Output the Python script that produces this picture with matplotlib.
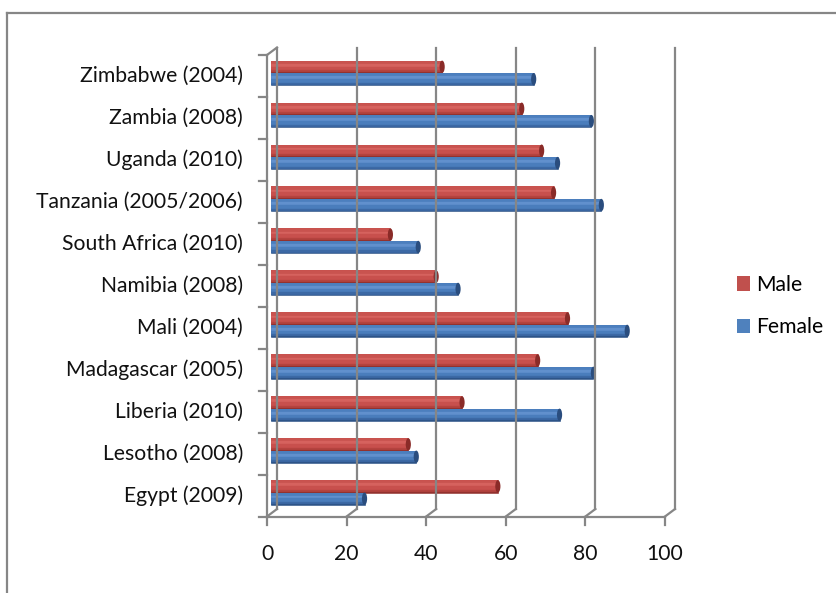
import matplotlib
matplotlib.use('Agg')
import matplotlib.pyplot as plt
from matplotlib.transforms import offset_copy
from matplotlib.patches import Ellipse, Patch
from matplotlib.lines import Line2D

plt.rcParams['font.family'] = ['Lato', 'DejaVu Sans']

# 数据（自下而上）
countries = ['Egypt (2009)', 'Lesotho (2008)', 'Liberia (2010)', 'Madagascar (2005)',
             'Mali (2004)', 'Namibia (2008)', 'South Africa (2010)',
             'Tanzania (2005/2006)', 'Uganda (2010)', 'Zambia (2008)', 'Zimbabwe (2004)']
male = [57, 34.5, 48, 67, 74.5, 41.5, 30, 71, 68, 63, 43]
female = [23.5, 36.5, 72.5, 81, 89.5, 47, 37, 83, 72, 80.5, 66]
x_ticks = [0, 20, 40, 60, 80, 100]

W, H = 837, 593
fig = plt.figure(figsize=(W / 100, H / 100), dpi=100)
fig.patch.set_facecolor('white')

# 前平面坐标轴（像素位置）
x0, x1 = 267, 665
y_top, y_bot = 55, 516.5
ax = fig.add_axes([x0 / W, (H - y_bot) / H, (x1 - x0) / W, (y_bot - y_top) / H])
ax.set_xlim(0, 100)
ax.set_ylim(0, len(countries))
ax.axis('off')

grid_c = '#868686'
txt_c = '#111111'
fs = 15.2
# 三维效果的偏移：后墙与柱体中平面
back = offset_copy(ax.transData, fig=fig, x=10, y=7.5, units='dots')
mid = offset_copy(ax.transData, fig=fig, x=4, y=3, units='dots')
front = ax.transData


def fig_line(p, q):
    fig.add_artist(Line2D([p[0] / W, q[0] / W], [p[1] / H, q[1] / H],
                          color=grid_c, lw=1.6))


n = len(countries)
# 后墙网格线、地板斜线、刻度
for xv in x_ticks:
    ax.plot([xv, xv], [0, n], color=grid_c, lw=1.6, transform=back, clip_on=False)
    p0 = front.transform((xv, 0))
    p1 = back.transform((xv, 0))
    fig_line(p0, p1)
    fig_line(p0, (p0[0], p0[1] - 8))
    ax.text(xv, 0, str(xv), transform=offset_copy(front, fig=fig, x=0, y=-37, units='dots'),
            ha='center', va='center', fontsize=fs, color=txt_c)

# 地板前沿
ax.plot([0, 100], [0, 0], color=grid_c, lw=1.6, transform=front, clip_on=False)

# 左侧墙
ax.plot([0, 0], [0, n], color=grid_c, lw=1.6, transform=front, clip_on=False)
fig_line(front.transform((0, n)), back.transform((0, n)))
for k in range(n + 1):
    p = front.transform((0, k))
    fig_line((p[0] - 8, p[1]), p)

# 类别标签
lab_tr = offset_copy(front, fig=fig, x=-24, y=0, units='dots')
for i, name in enumerate(countries):
    ax.text(0, i + 0.5, name, transform=lab_tr, ha='right', va='center',
            fontsize=fs, color=txt_c)

# 圆柱形条形：底色 + 分层明暗
bar_h = 0.295
red_base = '#C8504D'
blue_base = '#4A7DBC'
red_bands = ['#93322F', '#B4433F', '#C8504D', '#D6625E', '#C9534F']
blue_bands = ['#2D5488', '#3C69A5', '#4A7DBC', '#6190CD', '#4C7FBE']
band_frac = [0.13, 0.17, 0.30, 0.22, 0.18]


def cylinder(yc, v, base, bands, cap_color):
    ax.barh(yc, v, height=bar_h, left=0, color=base, lw=0,
            transform=mid, clip_on=False)
    y = yc - bar_h / 2
    for frac, c in zip(band_frac, bands):
        ax.barh(y, v, height=bar_h * frac, left=0, align='edge', color=c,
                edgecolor=c, lw=0.4, transform=mid, clip_on=False)
        y += bar_h * frac
    ax.add_patch(Ellipse((v, yc), width=1.3, height=bar_h, facecolor=cap_color,
                         edgecolor='none', transform=mid, clip_on=False))


for i in range(n):
    yc = i + 0.5
    cylinder(yc + 0.1475, male[i], red_base, red_bands, '#8A2B28')
    cylinder(yc - 0.1475, female[i], blue_base, blue_bands, '#2A4D7E')

# 图例
handles = [Patch(facecolor='#C0504D', label='Male'),
           Patch(facecolor='#4F81BD', label='Female')]
fig.legend(handles=handles, loc='center left', bbox_to_anchor=(726 / W, (H - 306) / H),
           frameon=False, fontsize=fs, handlelength=0.65, handleheight=0.65,
           handletextpad=0.3, labelspacing=1.05, borderpad=0)

# 外框（仅左、上两边可见）
fig.add_artist(Line2D([7 / W, 7 / W], [0, (H - 13) / H], color=grid_c, lw=1.6))
fig.add_artist(Line2D([7 / W, 1], [(H - 13) / H, (H - 13) / H], color=grid_c, lw=1.6))

fig.savefig('out.png', dpi=100)
